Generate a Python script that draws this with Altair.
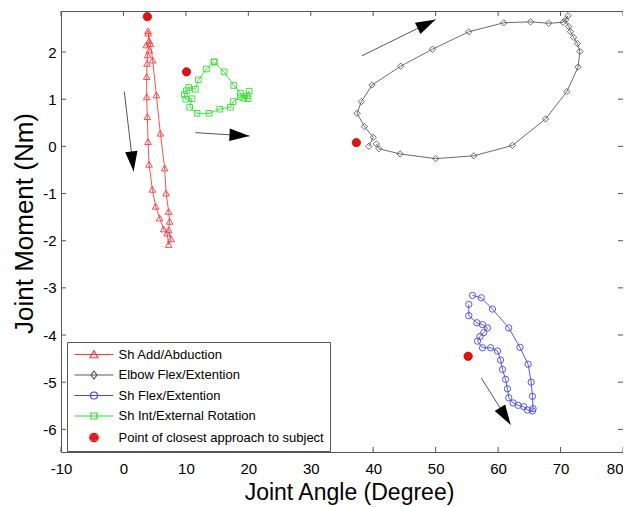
import math
import altair as alt
import pandas as pd

# ---------------- data ----------------
# Sh Add/Abduction (red, triangles)
add_x = [3.93, 4.10, 3.67, 4.15, 3.88, 3.78, 3.72, 3.72, 3.83, 3.94, 4.10, 4.63, 5.16, 5.80,
         6.44, 6.99, 7.24, 7.63, 7.24, 7.40, 7.24, 6.83, 6.60, 5.91, 5.27, 4.68, 4.31, 3.95]
add_y = [2.45, 2.24, 2.15, 2.04, 1.94, 1.76, 1.48, 1.05, 0.63, 0.10, -0.38, -0.91, -1.27, -1.52,
         -1.75, -1.84, -2.08, -1.96, -1.77, -1.59, -1.38, -0.99, -0.46, 0.28, 1.09, 1.83, 2.18, 2.40]

# Elbow Flex/Extention (grey, diamonds)
elb_x = [39.3, 40.0, 38.6, 37.4, 38.1, 39.8, 44.4, 49.5, 55.3, 60.9, 65.2, 68.1, 70.4, 71.2,
         70.8, 71.3, 71.6, 72.1, 72.7, 73.1, 72.8, 71.0, 67.6, 62.3, 56.1, 50.0, 44.3, 40.9, 40.5]
elb_y = [0.00, 0.19, 0.42, 0.70, 0.95, 1.30, 1.70, 2.06, 2.43, 2.62, 2.64, 2.61, 2.63, 2.77,
         2.68, 2.54, 2.43, 2.31, 2.18, 2.01, 1.68, 1.16, 0.58, 0.02, -0.20, -0.26, -0.16, -0.05, 0.05]

# Sh Flex/Extention (blue, circles)
flx_x = [55.9, 57.3, 59.1, 61.7, 63.5, 64.8, 65.3, 65.5, 65.6, 65.5, 64.7, 64.1, 63.2, 62.4,
         61.7, 61.5, 61.2, 60.7, 60.4, 59.9, 58.8, 57.5, 56.7, 57.1, 57.7, 58.3, 57.5, 56.6,
         55.3, 55.3]
flx_y = [-3.16, -3.21, -3.45, -3.85, -4.26, -4.62, -5.00, -5.30, -5.56, -5.61, -5.59, -5.52,
         -5.49, -5.44, -5.33, -5.14, -4.94, -4.73, -4.53, -4.34, -4.27, -4.27, -4.13, -4.03,
         -3.95, -3.85, -3.78, -3.74, -3.59, -3.35]

# Sh Int/External Rotation (green, squares)
rot_x = [14.52, 13.29, 12.00, 11.52, 10.45, 10.08, 9.76, 9.97, 10.99, 10.61, 11.79, 13.71,
         15.42, 17.13, 17.56, 18.73, 19.97, 19.81, 20.13, 19.27, 18.73, 17.66, 16.12, 14.52]
rot_y = [1.79, 1.64, 1.41, 1.21, 1.25, 1.18, 1.10, 1.00, 1.01, 0.83, 0.70, 0.70,
         0.79, 0.83, 0.95, 1.05, 1.01, 1.07, 1.17, 1.02, 1.13, 1.29, 1.58, 1.79]

# Point of closest approach to subject (red dots)
dot_x = [3.83, 10.1, 37.3, 55.2]
dot_y = [2.75, 1.58, 0.08, -4.45]

# direction arrows (start -> tip)
arr_x = [0.14, 11.52, 38.2, 57.3]
arr_y = [1.16, 0.29, 1.92, -4.91]
arr_x2 = [1.63, 20.18, 50.0, 62.0]
arr_y2 = [-0.53, 0.22, 2.69, -5.90]

x_ticks = [-10, 0, 10, 20, 30, 40, 50, 60, 70, 80]
y_ticks = [-6, -5, -4, -3, -2, -1, 0, 1, 2]

leg_names = ["Sh Add/Abduction", "Elbow Flex/Extention", "Sh Flex/Extention",
             "Sh Int/External Rotation", "Point of closest approach to subject"]

# ---------------- styling ----------------
RED, GREY, BLUE, GREEN, DOT = "#ff3a3a", "#5a5a5a", "#4444ff", "#2ee02e", "#e81010"
FONT = "Liberation Sans"
W, H = 562, 441
XD = [-10, 80]
YD = [-6.48, 2.87]

xs = alt.Scale(domain=XD, nice=False, zero=False)
ys = alt.Scale(domain=YD, nice=False, zero=False)

x_axis = alt.Axis(values=x_ticks, grid=False, ticks=False, domain=False, labelFlush=False,
                  labelAlign={"condition": {"test": "datum.value == 80", "value": "right"},
                              "value": "center"},
                  labelFont=FONT, labelFontSize=15, labelColor="black", labelPadding=9,
                  labelExpr="'' + datum.value",
                  title="Joint Angle (Degree)", titleFont=FONT, titleFontSize=23,
                  titleFontWeight="normal", titleColor="black", titleX=288, titleY=47,
                  titleBaseline="alphabetic", titleAlign="center")
y_axis = alt.Axis(values=y_ticks, grid=False, ticks=False, domain=False, labelFlush=False,
                  labelFont=FONT, labelFontSize=15, labelColor="black", labelPadding=5,
                  labelExpr="'' + datum.value",
                  title="Joint Moment (Nm)", titleFont=FONT, titleFontSize=26,
                  titleFontWeight="normal", titleColor="black", titleX=-29, titleY=212,
                  titleBaseline="alphabetic", titleAlign="center", titleAngle=270)


def series(xv, yv, color, shape, size):
    df = pd.DataFrame({"x": xv, "y": yv, "i": list(range(len(xv)))})
    return alt.Chart(df).mark_line(
        color=color, strokeWidth=0.9,
        point=alt.OverlayMarkDef(shape=shape, filled=False, size=size, color=color,
                                 strokeWidth=0.9, opacity=1)
    ).encode(x=alt.X("x:Q", scale=xs, axis=x_axis), y=alt.Y("y:Q", scale=ys, axis=y_axis),
             order="i:Q")


l_add = series(add_x, add_y, RED, "triangle-up", 45)
l_elb = series(elb_x, elb_y, GREY, "diamond", 40)
l_flx = series(flx_x, flx_y, BLUE, "circle", 40)
l_rot = series(rot_x, rot_y, GREEN, "square", 32)

dots = alt.Chart(pd.DataFrame({"x": dot_x, "y": dot_y})).mark_point(
    filled=True, shape="circle", size=70, color=DOT, stroke="#a00000", strokeWidth=0.7, opacity=1
).encode(x=alt.X("x:Q", scale=xs), y=alt.Y("y:Q", scale=ys))

# arrows
px_x = W / (XD[1] - XD[0])
px_y = H / (YD[1] - YD[0])
angles = []
for a, b, c, d in zip(arr_x, arr_y, arr_x2, arr_y2):
    dx = (c - a) * px_x
    dy = -(d - b) * px_y
    angles.append(math.degrees(math.atan2(dx, -dy)) % 360)
arr_df = pd.DataFrame({"x": arr_x, "y": arr_y, "x2": arr_x2, "y2": arr_y2, "ang": angles})
arr_lines = alt.Chart(arr_df).mark_rule(color="#555555", strokeWidth=1).encode(
    x=alt.X("x:Q", scale=xs), y=alt.Y("y:Q", scale=ys), x2="x2:Q", y2="y2:Q")
arr_heads = alt.Chart(arr_df).mark_point(
    shape="M0,0L0.62,2L-0.62,2Z", filled=True, color="black", size=400, opacity=1, strokeWidth=0
).encode(x=alt.X("x2:Q", scale=xs), y=alt.Y("y2:Q", scale=ys), angle=alt.Angle("ang:Q", scale=None))

# inward tick marks on all four sides
xt = pd.DataFrame({"t": x_ticks})
yt = pd.DataFrame({"t": y_ticks})
TC = "#555555"
t_bot = alt.Chart(xt).mark_rule(color=TC, strokeWidth=1).encode(
    x=alt.X("t:Q", scale=xs), y=alt.value(H), y2=alt.value(H - 5))
t_top = alt.Chart(xt).mark_rule(color=TC, strokeWidth=1).encode(
    x=alt.X("t:Q", scale=xs), y=alt.value(0), y2=alt.value(5))
t_lft = alt.Chart(yt).mark_rule(color=TC, strokeWidth=1).encode(
    y=alt.Y("t:Q", scale=ys), x=alt.value(0), x2=alt.value(5))
t_rgt = alt.Chart(yt).mark_rule(color=TC, strokeWidth=1).encode(
    y=alt.Y("t:Q", scale=ys), x=alt.value(W), x2=alt.value(W - 5))

# legend (custom symbol paths: line sample + marker)
LN = "M-3.9,0L3.9,0"
leg_paths = [
    LN + "M0,-0.75L0.8,0.65L-0.8,0.65Z",
    LN + "M0,-0.8L0.6,0L0,0.8L-0.6,0Z",
    LN + "M0.7,0A0.7,0.7 0 1,1 -0.7,0A0.7,0.7 0 1,1 0.7,0Z",
    LN + "M-0.6,-0.6L0.6,-0.6L0.6,0.6L-0.6,0.6Z",
    "M0.85,0A0.85,0.85 0 1,1 -0.85,0A0.85,0.85 0 1,1 0.85,0Z"
    "M0.62,0A0.62,0.62 0 1,1 -0.62,0A0.62,0.62 0 1,1 0.62,0Z"
    "M0.4,0A0.4,0.4 0 1,1 -0.4,0A0.4,0.4 0 1,1 0.4,0Z"
    "M0.18,0A0.18,0.18 0 1,1 -0.18,0A0.18,0.18 0 1,1 0.18,0Z",
]
leg_colors = [RED, GREY, BLUE, GREEN, DOT]
leg_cfg = dict(orient="none", legendX=6, legendY=331, title=None, padding=6, rowPadding=6.5,
               symbolSize=100, symbolStrokeWidth=1.2, symbolOffset=14.5, labelOffset=18,
               symbolOpacity=1, labelFont=FONT, labelFontSize=13, labelColor="black",
               labelLimit=400, strokeColor="#555555", fillColor="white", cornerRadius=0)
leg_df = pd.DataFrame({"name": leg_names, "x": [0.0] * 5, "y": [0.0] * 5})
legend_layer = alt.Chart(leg_df).mark_point(opacity=0, filled=False).encode(
    x=alt.X("x:Q", scale=xs), y=alt.Y("y:Q", scale=ys),
    color=alt.Color("name:N", scale=alt.Scale(domain=leg_names, range=leg_colors),
                    legend=alt.Legend(**leg_cfg)),
    shape=alt.Shape("name:N", scale=alt.Scale(domain=leg_names, range=leg_paths),
                    legend=alt.Legend(**leg_cfg)),
)

chart = alt.layer(
    l_add, l_elb, l_flx, l_rot, dots, arr_lines, arr_heads,
    t_bot, t_top, t_lft, t_rgt, legend_layer
).properties(
    width=W, height=H,
    autosize=alt.AutoSizeParams(type="none"),
    padding={"left": 53, "top": 3, "right": 0, "bottom": 53},
    background="white",
).configure_view(stroke="#555555", strokeWidth=1)

chart.save("out.html", embed_options={"renderer": "svg", "actions": False})
